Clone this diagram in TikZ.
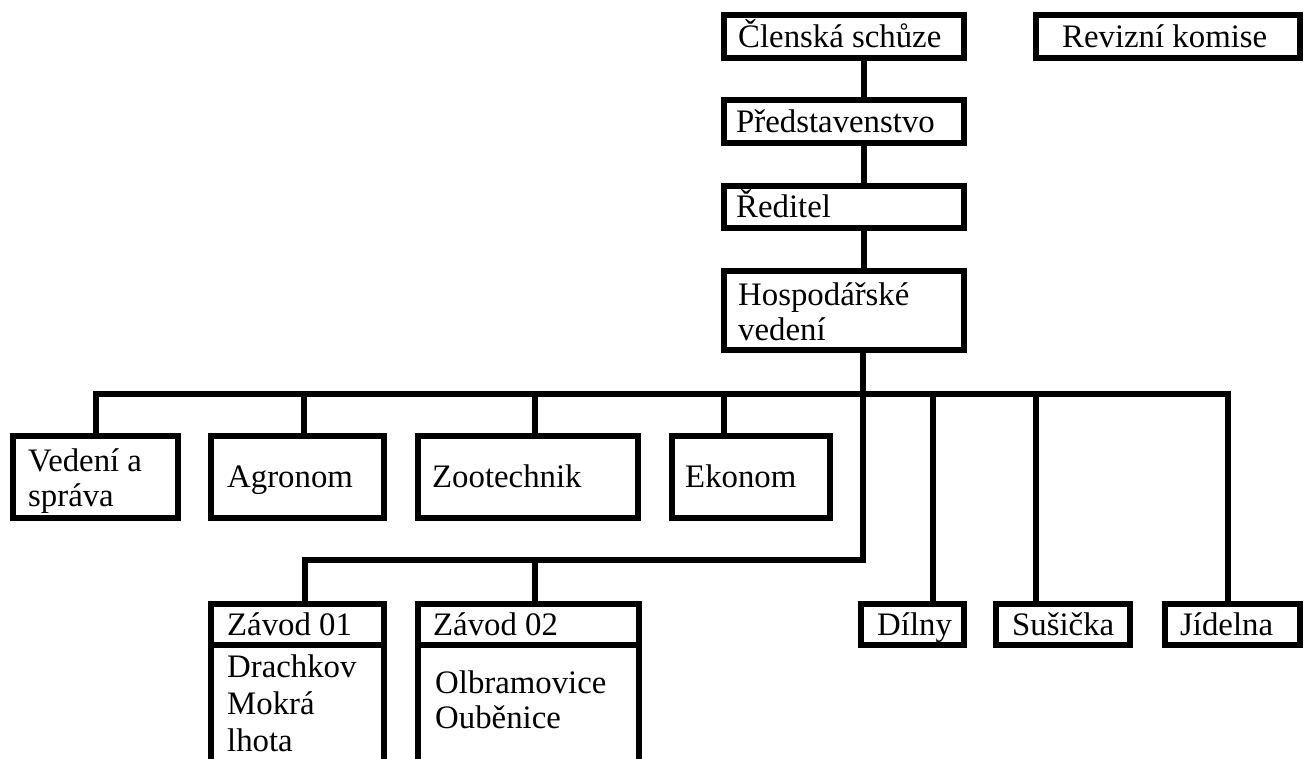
\documentclass[tikz,border=0pt]{standalone}
\usepackage{fontspec}
\setmainfont{Liberation Serif}
\newfontfamily\tnr{Liberation Serif}
\begin{document}
\begin{tikzpicture}[x=1pt,y=-1pt,
  box/.style={draw, line width=6pt, inner sep=0pt, outer sep=0pt, fill=none},
  txt/.style={anchor=base west, inner sep=0pt, font=\tnr\fontsize{32.8pt}{36pt}\selectfont},
  conn/.style={line width=6pt, line join=miter}]
\useasboundingbox (0,0) rectangle (1305,758);
% top column
\node[box, minimum width=240pt, minimum height=43pt] (clen) at (844,36.5) {};
\node[box, minimum width=264pt, minimum height=43pt] (rev) at (1168,36.5) {};
\node[box, minimum width=240pt, minimum height=43pt] (pred) at (844,121.5) {};
\node[box, minimum width=240pt, minimum height=42pt] (red) at (844,207) {};
\node[box, minimum width=240pt, minimum height=79pt] (hosp) at (844,310.5) {};
% second row
\node[box, minimum width=165pt, minimum height=82pt] (ved) at (95.5,477) {};
\node[box, minimum width=173pt, minimum height=82pt] (agr) at (297.5,477) {};
\node[box, minimum width=220pt, minimum height=82pt] (zoo) at (528,477) {};
\node[box, minimum width=158pt, minimum height=82pt] (eko) at (751,477) {};
% third row
\node[box, minimum width=173pt, minimum height=41pt] (zaa) at (297.5,624.5) {};
\node[box, minimum width=221pt, minimum height=41pt] (zab) at (528.5,624.5) {};
\node[box, minimum width=103pt, minimum height=41pt] (dil) at (912.5,624.5) {};
\node[box, minimum width=134pt, minimum height=41pt] (sus) at (1063,624.5) {};
\node[box, minimum width=135pt, minimum height=41pt] (jid) at (1232.5,624.5) {};
% texts
\node[txt] (tclen) at (738,47.3) {Členská schůze};
\node[txt] (trev) at (1062,47.3) {Revizní komise};
\node[txt] (tpred) at (736,132.3) {Představenstvo};
\node[txt] (tred) at (736,217.8) {Ředitel};
\node[txt] (thosa) at (738,305) {Hospodářské};
\node[txt] (thosb) at (738,340) {vedení};
\node[txt] (tveda) at (28,471) {Vedení a};
\node[txt] (tvedb) at (28,506) {správa};
\node[txt] (tagr) at (227,487.8) {Agronom};
\node[txt] (tzoo) at (432,487.8) {Zootechnik};
\node[txt] (teko) at (685,487.8) {Ekonom};
\node[txt] (tzaa) at (227,635.3) {Závod 01};
\node[txt] (tzab) at (433,635.3) {Závod 02};
\node[txt] (tdra) at (227,677.3) {Drachkov};
\node[txt] (tmok) at (227,714) {Mokrá};
\node[txt] (tlho) at (227,751) {lhota};
\node[txt] (tolb) at (435,693) {Olbramovice};
\node[txt] (toub) at (435,728) {Ouběnice};
\node[txt] (tdil) at (877,635.3) {Dílny};
\node[txt] (tsus) at (1012,635.3) {Sušička};
\node[txt] (tjid) at (1180,635.3) {Jídelna};
% coordinates
\coordinate (tx) at (864,0);
\coordinate (b1) at (96,394);
\coordinate (b2) at (304,394);
\coordinate (b3) at (535,394);
\coordinate (b4) at (724,394);
\coordinate (hb) at (863,394);
\coordinate (b5) at (933,394);
\coordinate (b6) at (1036,394);
\coordinate (b7) at (1228,394);
\coordinate (tk) at (863,560);
\coordinate (zl) at (305,560);
\coordinate (zr) at (535,560);
\coordinate (bot) at (0,766);
% connectors
\draw[conn] (clen.south -| tx) -- (pred.north -| tx);
\draw[conn] (pred.south -| tx) -- (red.north -| tx);
\draw[conn] (red.south -| tx) -- (hosp.north -| tx);
\draw[conn] (hosp.south -| hb) -- (hb);
\draw[conn] (b1 |- ved.north) -- (b1) -- (b7) -- (b7 |- jid.north);
\draw[conn] (b2) -- (b2 |- agr.north);
\draw[conn] (b3) -- (b3 |- zoo.north);
\draw[conn] (b4) -- (b4 |- eko.north);
\draw[conn] (b5) -- (b5 |- dil.north);
\draw[conn] (b6) -- (b6 |- sus.north);
\draw[conn] (hb) -- (tk) -- (zl) -- (zl |- zaa.north);
\draw[conn] (zr) -- (zr |- zab.north);
% bodies of the Závod boxes
\draw[conn] (zaa.south west) -- (zaa.south west |- bot);
\draw[conn] (zaa.south east) -- (zaa.south east |- bot);
\draw[conn] (zab.south west) -- (zab.south west |- bot);
\draw[conn] (zab.south east) -- (zab.south east |- bot);
\end{tikzpicture}
\end{document}
